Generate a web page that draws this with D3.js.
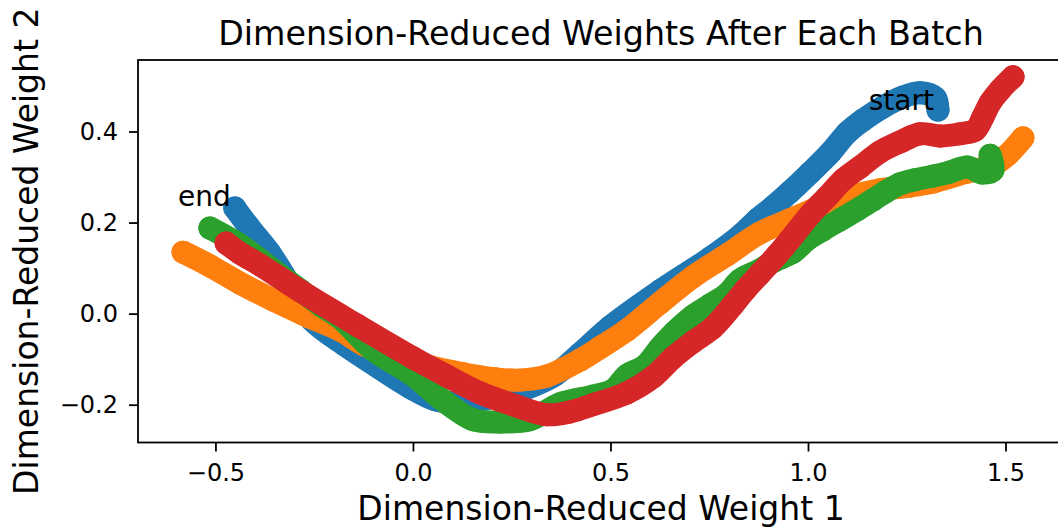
<!DOCTYPE html>
<html>
<head>
<meta charset="utf-8">
<script src="https://cdn.jsdelivr.net/npm/d3@7"></script>
<style>
body { margin:0; background:#fff; }
svg { display:block; font-family:"DejaVu Sans", sans-serif; }
</style>
</head>
<body>
<svg></svg>
<script>
var screen = {width:1058, height:529}
var margins = {top:60, right:-6, bottom:86.5, left:138}

// dimension-reduced weights, one list per run, in batch order (first = start)
var blueWeights = [[1.329,0.447],[1.322,0.474],[1.284,0.485],[1.241,0.476],[1.190,0.454],[1.139,0.425],[1.099,0.397],[1.056,0.353],[1.005,0.309],[0.954,0.267],[0.911,0.234],[0.871,0.206],[0.828,0.171],[0.752,0.122],[0.625,0.050],[0.499,-0.029],[0.423,-0.088],[0.359,-0.135],[0.296,-0.161],[0.195,-0.185],[0.119,-0.196],[0.056,-0.189],[-0.005,-0.163],[-0.089,-0.117],[-0.172,-0.069],[-0.256,-0.014],[-0.311,0.063],[-0.362,0.133],[-0.413,0.188],[-0.451,0.232]]
var orangeWeights = [[1.544,0.386],[1.504,0.348],[1.468,0.326],[1.403,0.311],[1.316,0.289],[1.258,0.280],[1.182,0.272],[1.132,0.263],[1.081,0.250],[1.013,0.228],[0.954,0.206],[0.878,0.177],[0.795,0.129],[0.709,0.081],[0.625,0.023],[0.542,-0.036],[0.473,-0.075],[0.423,-0.102],[0.339,-0.137],[0.271,-0.146],[0.208,-0.143],[0.127,-0.132],[0.035,-0.115],[-0.033,-0.097],[-0.122,-0.069],[-0.185,-0.036],[-0.268,-0.005],[-0.354,0.030],[-0.438,0.067],[-0.514,0.105],[-0.582,0.135]]
var greenWeights = [[1.461,0.348],[1.468,0.315],[1.441,0.309],[1.403,0.322],[1.359,0.311],[1.316,0.302],[1.271,0.294],[1.233,0.285],[1.195,0.267],[1.165,0.250],[1.124,0.228],[1.081,0.206],[1.038,0.184],[0.997,0.162],[0.962,0.135],[0.911,0.114],[0.878,0.096],[0.828,0.074],[0.795,0.043],[0.752,0.019],[0.709,-0.005],[0.663,-0.040],[0.625,-0.075],[0.587,-0.115],[0.542,-0.135],[0.506,-0.168],[0.456,-0.181],[0.372,-0.198],[0.296,-0.233],[0.220,-0.238],[0.152,-0.233],[0.068,-0.185],[0.000,-0.135],[-0.101,-0.080],[-0.185,-0.009],[-0.228,0.015],[-0.286,0.052],[-0.354,0.096],[-0.438,0.151],[-0.514,0.188]]
var redWeights = [[1.519,0.520],[1.486,0.491],[1.461,0.463],[1.443,0.432],[1.423,0.403],[1.385,0.395],[1.334,0.390],[1.284,0.395],[1.233,0.377],[1.182,0.355],[1.132,0.322],[1.089,0.294],[1.048,0.256],[1.005,0.217],[0.954,0.162],[0.922,0.129],[0.878,0.087],[0.841,0.052],[0.810,0.019],[0.759,-0.031],[0.709,-0.062],[0.658,-0.097],[0.608,-0.139],[0.542,-0.174],[0.456,-0.200],[0.397,-0.216],[0.339,-0.222],[0.253,-0.200],[0.170,-0.174],[0.086,-0.137],[0.000,-0.097],[-0.142,-0.025],[-0.286,0.050],[-0.387,0.107],[-0.438,0.133],[-0.473,0.155]]

var runs = [blueWeights, orangeWeights, greenWeights, redWeights]
var xTicks = [-0.5, 0.0, 0.5, 1.0, 1.5]
var yTicks = [-0.2, 0.0, 0.2, 0.4]
var xLimits = [-0.696, 1.648]
var yLimits = [-0.283, 0.557]

var colors = ["#1f77b4", "#ff7f0e", "#2ca02c", "#d62728"]

var width = screen.width - margins.left - margins.right
var height = screen.height - margins.top - margins.bottom

var svg = d3.select("svg")
    .attr("width", screen.width)
    .attr("height", screen.height)

var xScale = d3.scaleLinear().domain(xLimits).range([0, width])
var yScale = d3.scaleLinear().domain(yLimits).range([height, 0])

var graph = svg.append("g")
    .attr("id", "graph")
    .attr("transform", "translate(" + margins.left + "," + margins.top + ")")

var linegenerator = d3.line()
    .x(function(p){ return xScale(p[0]) })
    .y(function(p){ return yScale(p[1]) })
    .curve(d3.curveCatmullRom.alpha(0.5))

var groups = graph.selectAll(".run")
    .data(runs)
    .enter()
    .append("g")
    .attr("class", "run")
    .attr("fill", function(d, i){ return colors[i] })
    .attr("stroke", function(d, i){ return colors[i] })

groups.append("path")
    .attr("d", linegenerator)
    .attr("fill", "none")
    .attr("stroke-width", 23)
    .attr("stroke-linecap", "round")
    .attr("stroke-linejoin", "round")

groups.selectAll("circle")
    .data(function(d){ return d })
    .enter()
    .append("circle")
    .attr("cx", function(p){ return xScale(p[0]) })
    .attr("cy", function(p){ return yScale(p[1]) })
    .attr("r", 11.5)
    .attr("stroke", "none")

// start / end labels sit at the first and last blue point
var first = blueWeights[0]
var last = blueWeights[blueWeights.length - 1]
graph.append("text")
    .attr("x", xScale(first[0]))
    .attr("y", yScale(first[1]))
    .attr("dx", -4)
    .attr("text-anchor", "end")
    .attr("font-size", 28)
    .attr("fill", "#000")
    .text("start")
graph.append("text")
    .attr("x", xScale(last[0]))
    .attr("y", yScale(last[1]))
    .attr("dx", -4)
    .attr("dy", -2)
    .attr("text-anchor", "end")
    .attr("font-size", 28)
    .attr("fill", "#000")
    .text("end")

var xAxis = d3.axisBottom(xScale)
    .tickValues(xTicks)
    .tickFormat(d3.format(".1f"))
    .tickSize(9)
    .tickSizeOuter(0)
    .tickPadding(12)
var yAxis = d3.axisLeft(yScale)
    .tickValues(yTicks)
    .tickFormat(d3.format(".1f"))
    .tickSize(9)
    .tickSizeOuter(0)
    .tickPadding(11)

var xg = graph.append("g")
    .attr("transform", "translate(0," + height + ")")
    .call(xAxis)
var yg = graph.append("g")
    .call(yAxis)

svg.selectAll(".domain").remove()
svg.selectAll(".tick line").attr("stroke", "#000").attr("stroke-width", 1.8)
svg.selectAll(".tick text")
    .attr("font-size", 24)
    .attr("font-family", "DejaVu Sans")
    .attr("fill", "#000")

graph.append("rect")
    .attr("x", 0)
    .attr("y", 0)
    .attr("width", width)
    .attr("height", height)
    .attr("fill", "none")
    .attr("stroke", "#000")
    .attr("stroke-width", 1.8)

svg.append("text")
    .attr("x", margins.left + width / 2)
    .attr("y", 45)
    .attr("text-anchor", "middle")
    .attr("font-size", 33.3)
    .attr("fill", "#000")
    .text("Dimension-Reduced Weights After Each Batch")

svg.append("text")
    .attr("x", margins.left + width / 2)
    .attr("y", 520)
    .attr("text-anchor", "middle")
    .attr("font-size", 33)
    .attr("fill", "#000")
    .text("Dimension-Reduced Weight 1")

svg.append("text")
    .attr("transform", "translate(38," + (margins.top + height / 2) + ") rotate(-90)")
    .attr("text-anchor", "middle")
    .attr("font-size", 33)
    .attr("fill", "#000")
    .text("Dimension-Reduced Weight 2")
</script>
</body>
</html>
